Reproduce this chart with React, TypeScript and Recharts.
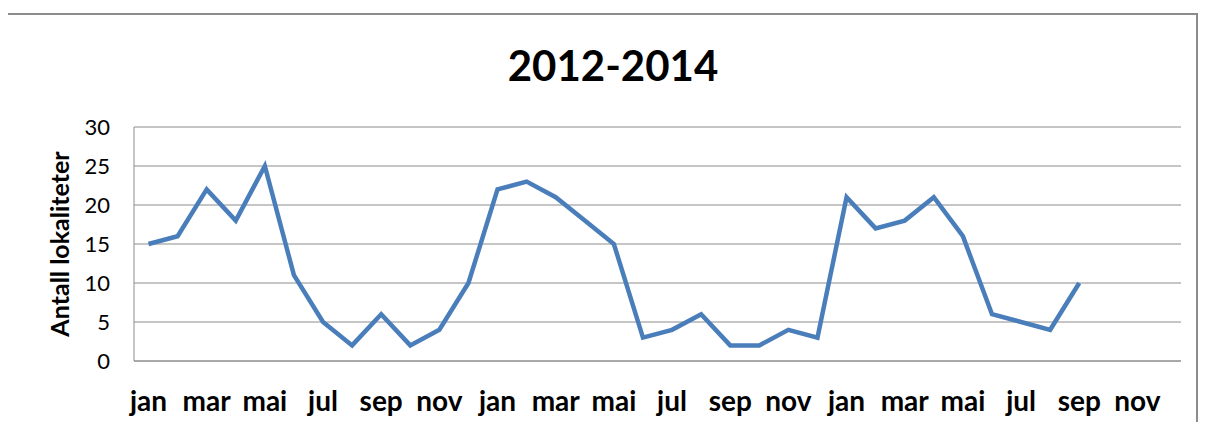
import React from 'react'
import { LineChart, Line, XAxis, YAxis, CartesianGrid } from 'recharts'

// ─── Data ────────────────────────────────────────────────────────────────────

const MONTHS = ['jan', 'feb', 'mar', 'apr', 'mai', 'jun', 'jul', 'aug', 'sep', 'okt', 'nov', 'des']
const YEARS = [2012, 2013, 2014]

const VALUES_2012 = [15, 16, 22, 18, 25, 11, 5, 2, 6, 2, 4, 10]
const VALUES_2013 = [22, 23, 21, 18, 15, 3, 4, 6, 2, 2, 4, 3]
const VALUES_2014 = [21, 17, 18, 21, 16, 6, 5, 4, 10, null, null, null]

const Y_TICKS = [0, 5, 10, 15, 20, 25, 30]

const TITLE = '2012-2014'
const Y_LABEL = 'Antall lokaliteter'

const data = [VALUES_2012, VALUES_2013, VALUES_2014].flatMap((vals, yi) =>
  vals.map((v, mi) => ({ key: `${YEARS[yi]}-${mi}`, value: v }))
)

const monthOf = (key: string) => MONTHS[Number(String(key).split('-')[1])] ?? ''

// ─── Chart ───────────────────────────────────────────────────────────────────

const FONT = 'Lato, "Open Sans", sans-serif'
const GRID = '#8c8c8c'

export default function App() {
  return (
    <div style={{ position: 'relative', margin: -8, width: 1206, height: 430, overflow: 'hidden', background: '#fff' }}>
      <div
        style={{
          position: 'absolute',
          left: 6,
          top: 13,
          width: 1192,
          height: 440,
          border: '2px solid #8c8c8c',
          boxSizing: 'border-box',
        }}
      />
      <div
        style={{
          position: 'absolute',
          left: 0,
          top: 40,
          width: 1226,
          textAlign: 'center',
          fontFamily: FONT,
          fontWeight: 700,
          fontSize: 42,
          lineHeight: '50px',
          color: '#000',
        }}
      >
        {TITLE}
      </div>
      <div style={{ position: 'absolute', left: 0, top: 0 }}>
        <LineChart
          width={1206}
          height={430}
          data={data}
          margin={{ top: 127, right: 25, bottom: 0, left: 40 }}
        >
          <CartesianGrid vertical={false} stroke={GRID} strokeWidth={1} />
          <XAxis
            dataKey="key"
            tickFormatter={monthOf}
            interval={1}
            height={69}
            padding={{ left: 14.5, right: 14.5 }}
            axisLine={{ stroke: GRID }}
            tickLine={false}
            tickSize={0}
            tickMargin={30}
            tick={{ fontFamily: FONT, fontWeight: 700, fontSize: 28, fill: '#000' }}
          />
          <YAxis
            domain={[0, 30]}
            ticks={Y_TICKS}
            width={94}
            axisLine={{ stroke: GRID }}
            tickLine={false}
            tickSize={0}
            tickMargin={24}
            tick={{ fontFamily: FONT, fontSize: 22, fill: '#000' }}
            label={{
              value: Y_LABEL,
              angle: -90,
              position: 'center',
              dx: -27,
              style: { fontFamily: FONT, fontWeight: 700, fontSize: 25, fill: '#000' },
            }}
          />
          <Line
            type="linear"
            dataKey="value"
            stroke="#4a7ebb"
            strokeWidth={4.5}
            dot={false}
            activeDot={false}
            connectNulls={false}
            isAnimationActive={false}
          />
        </LineChart>
      </div>
    </div>
  )
}
